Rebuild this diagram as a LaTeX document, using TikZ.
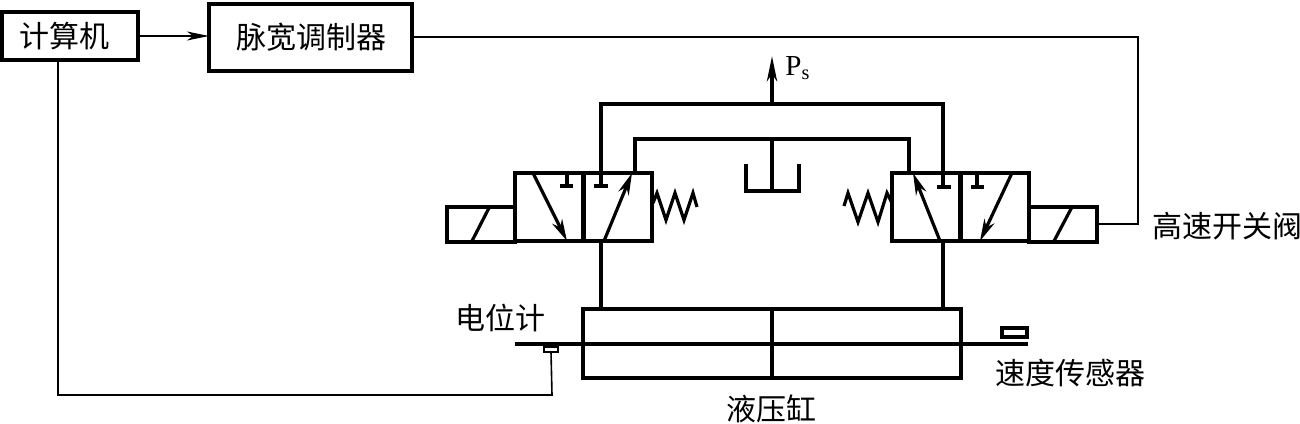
\documentclass[tikz,border=0pt]{standalone}
\usepackage{fontspec}
\setmainfont{Liberation Serif}
\newfontfamily\cjk{Noto Sans CJK SC}
\usetikzlibrary{arrows.meta, positioning}

\begin{document}
\begin{tikzpicture}[
    x=0.5pt, y=-0.5pt,
    box/.style={rectangle, draw, line width=2pt, inner sep=0pt, outer sep=0pt, align=center, font=\cjk\fontsize{15}{17}\selectfont},
    cell/.style={box, minimum width=34pt, minimum height=34pt},
    solenoid/.style={box, minimum width=34pt, minimum height=17.5pt},
    lbl/.style={inner sep=0pt, font=\cjk\fontsize{15}{17}\selectfont},
    pipe/.style={line width=2pt},
    pipeb/.style={line width=1.6pt},
    sig/.style={line width=0.8pt},
    flow/.style={line width=1.6pt, -{Stealth[length=11pt, width=5.5pt, inset=3.5pt]}},
    spring/.style={line width=1.6pt, line join=miter}
]
\useasboundingbox (0,0) rectangle (1300,423);

% Control blocks
\node[box, minimum width=68pt, minimum height=24pt] (comp) at (70,36) {计算机\kern6pt};
\node[box, minimum width=101.5pt, minimum height=33.5pt] (pwm) at (310.5,37) {\kern1pt脉宽调制器};

% Left valve
\node[cell] (la) at (549,207) {};
\node[cell] (lb) at (618,207) {};
\node[solenoid] (lsol) at (481,224) {};
% Right valve
\node[cell] (ra) at (926,207) {};
\node[cell] (rb) at (995,207) {};
\node[solenoid] (rsol) at (1063,224) {};

% Cylinder
\node[box, minimum width=94.5pt, minimum height=34.5pt] (cylL) at (677.5,343.5) {};
\node[box, minimum width=94.5pt, minimum height=34.5pt] (cylR) at (866.5,343.5) {};
\node[box, line width=0.8pt, minimum width=7pt, minimum height=2.5pt] (pot) at (551,349.5) {};
\node[box, minimum width=12.5pt, minimum height=4.5pt] (speed) at (1014.5,332.5) {};

% Named points
\coordinate (rod1) at (515,344);
\coordinate (rod2) at (1028,344);
\coordinate (railL) at (601,104);
\coordinate (railR) at (943,104);
\coordinate (backL) at (635,139);
\coordinate (backR) at (909,139);
\coordinate (portL) at (601,173);
\coordinate (portR) at (943,173);
\coordinate (retL) at (635,173);
\coordinate (retR) at (909,173);
\coordinate (outL) at (601,241);
\coordinate (outR) at (943,241);
\coordinate (feedL) at (601,309);
\coordinate (feedR) at (943,309);
\coordinate (psBase) at (772,104);
\coordinate (psTip) at (772,56);
\coordinate (tankTop) at (772,139);
\coordinate (tankBot) at (772,191);
\coordinate (sigTurn) at (1138,224);
\coordinate (potTurn) at (552,395);

% Signals
\draw[sig, -{Stealth[length=11pt, width=4.5pt, inset=3pt]}] (comp.east) -- (comp.east -| pwm.west);
\draw[sig] (pwm.east) -| (sigTurn) -- (rsol.east);
\draw[sig] ([xshift=-6pt]comp.south) |- (potTurn) -- (pot.south);

% Pipes
\draw[pipe] (portL) -- (railL) -- (railR) -- (portR);
\draw[pipeb] (retL) -- (backL) -- (backR) -- (retR);
\draw[pipe, -{Stealth[length=12.5pt, width=5pt, inset=3.5pt]}] (psBase) -- (psTip);
\draw[pipeb] (tankTop) -- (tankBot);
\draw[pipe] (746,164) -- (746,191) -- (799,191) -- (799,164);
\draw[pipe] (outL) -- (feedL);
\draw[pipe] (outR) -- (feedR);
\draw[line width=1.8pt] (rod1) -- (rod2);

% Left valve symbols
\draw[pipeb] (472,241) -- (490,206);
\draw[flow] (533,173) -- (567,241);
\draw[flow] (604,241) -- (632,173);
\draw[pipeb] (567,173) -- (567,186);
\draw[pipeb] (560,186) -- (573,186);
\draw[pipeb] (601,173) -- (601,186);
\draw[pipeb] (594,186) -- (608,186);
\draw[spring] (653,203) -- (657,193) -- (666,220) -- (675,193) -- (684,220) -- (693,193) -- (697,207);

% Right valve symbols
\draw[pipeb] (1054,241) -- (1072,207);
\draw[flow] (940,241) -- (913,173);
\draw[flow] (1012,173) -- (980,241);
\draw[pipeb] (943,173) -- (943,187);
\draw[pipeb] (937,187) -- (951,187);
\draw[pipeb] (977,173) -- (977,187);
\draw[pipeb] (971,187) -- (984,187);
\draw[spring] (892,203) -- (887,193) -- (878,222) -- (868,193) -- (858,222) -- (848,193) -- (844,206);

% Labels
\node[inner sep=0pt, anchor=west, font=\fontsize{14.5}{16}\selectfont] (ps) at (785,68) {P\textsubscript{s}};
\node[lbl, anchor=west] (valve) at (1152,226) {高速开关阀};
\node[lbl] (pot label) at (500,318) {电位计};
\node[lbl] (speed label) at (1070,373) {速度传感器};
\node[lbl] (cyl label) at (771,409) {液压缸};

\end{tikzpicture}
\end{document}
